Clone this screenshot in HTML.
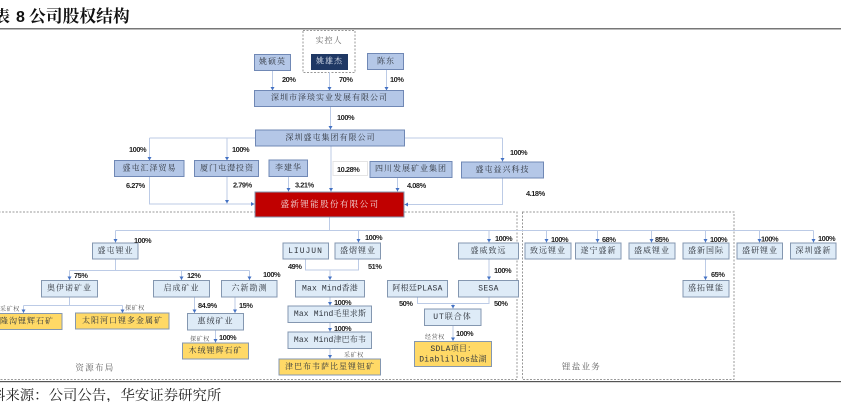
<!DOCTYPE html>
<html><head><meta charset="utf-8">
<style>
html,body{margin:0;padding:0;background:#fff;width:841px;height:402px;overflow:hidden}
svg{display:block;filter:blur(.35px)}
text{font-family:"Liberation Sans","Noto Serif CJK SC",serif}
.b text,text.c{font-family:"Liberation Mono","Noto Serif CJK SC",serif;font-size:8px;letter-spacing:1px;fill:#2f343c;text-anchor:middle;dominant-baseline:central}
.p{font-family:"Liberation Sans",sans-serif;font-size:7.4px;letter-spacing:-.45px;fill:#222;font-weight:bold}
.s{font-family:"Noto Serif CJK SC",serif;font-size:6px;letter-spacing:.6px;fill:#555}
.up rect{fill:#b4c7e7;stroke:#7088b5;stroke-width:1}
.lo rect{fill:#deebf7;stroke:#8497b0;stroke-width:1}
.ye rect{fill:#ffd966;stroke:#8497b0;stroke-width:1}
.l{fill:none;stroke:#bccbe6;stroke-width:1}
.a{fill:none;stroke:#bccbe6;stroke-width:1;marker-end:url(#m)}
.d{fill:none;stroke:#999;stroke-width:1;stroke-dasharray:2 1.5}
</style></head><body>
<svg width="841" height="402" viewBox="0 0 841 402" xmlns="http://www.w3.org/2000/svg">
<defs><marker id="m" markerUnits="userSpaceOnUse" markerWidth="4" markerHeight="4" refX="3.5" refY="2" orient="auto"><path d="M0 0L3.5 2L0 4Z" fill="#4472c4"/></marker></defs>

<text x="-6" y="22" style="font-family:'Noto Serif CJK SC',serif;font-size:16px;font-weight:bold;fill:#111">表</text>
<text x="16" y="22" style="font-family:'Liberation Sans',sans-serif;font-size:16px;font-weight:bold;fill:#111">8</text>
<text x="29" y="22" style="font-family:'Noto Serif CJK SC',serif;font-size:16.8px;font-weight:bold;fill:#111">公司股权结构</text>
<rect x="0" y="28" width="841" height="1.5" fill="#777"/>
<rect x="0" y="381" width="841" height="1.2" fill="#555"/>
<text x="-9" y="400" style="font-family:'Noto Serif CJK SC',serif;font-size:14.4px;fill:#222">料来源：公司公告，华安证券研究所</text>

<rect class="d" x="303" y="30.5" width="52" height="42"/>
<rect class="d" x="-5" y="212" width="522" height="167.5"/>
<rect class="d" x="522.5" y="212" width="211.5" height="167.5"/>

<path class="a" d="M272.5 70V90.5"/><path class="a" d="M329.5 72V90.5"/><path class="a" d="M386.5 69V90.5"/>
<path class="a" d="M330.5 106V129.5"/>
<path class="l" d="M149.5 138H502.5"/>
<path class="a" d="M149.5 138V160.5"/><path class="a" d="M227 138V160.5"/><path class="a" d="M502.5 138V161.5"/>
<path class="a" d="M331 146V191.5"/><path class="a" d="M288.5 176V191.5"/><path class="a" d="M397.5 177V191.5"/>
<path class="a" d="M149.5 176V204H254.5"/><path class="a" d="M227 176V203.5"/><path class="a" d="M502.5 178V204.5H404.5"/>

<path class="l" d="M329.5 217V230.5"/>
<path class="l" d="M115.5 230.5H813.5"/>
<path class="a" d="M115.5 230.5V242.5"/><path class="a" d="M358.5 230.5V242.5"/><path class="a" d="M489 230.5V242.5"/>
<path class="a" d="M546.5 230.5V242.5"/><path class="a" d="M597.5 230.5V242.5"/><path class="a" d="M651.5 230.5V242.5"/>
<path class="a" d="M705.5 230.5V242.5"/><path class="a" d="M759.5 230.5V242.5"/><path class="a" d="M813.5 230.5V242.5"/>

<path class="l" d="M115.5 259V270.5"/><path class="l" d="M69.5 270.5H249.5"/>
<path class="a" d="M69.5 270.5V280"/><path class="a" d="M181.5 270.5V280"/><path class="a" d="M249.5 270.5V280"/>
<path class="l" d="M69.5 297V305.5"/><path class="l" d="M23.5 305.5H122.5"/>
<path class="a" d="M23.5 305.5V313"/><path class="a" d="M122.5 305.5V313"/>
<path class="a" d="M194.5 297V313"/><path class="a" d="M235 297V313"/>
<path class="a" d="M215.5 330V342.5"/>

<path class="l" d="M305.5 259V270H358.5V259"/><path class="a" d="M330 270V280"/>
<path class="a" d="M330 297V305.5"/><path class="a" d="M330 322V331.5"/><path class="a" d="M330 348V358.5"/>
<path class="a" d="M489 259V280"/>
<path class="l" d="M417.5 297V303.5H489V297"/><path class="a" d="M453 303.5V308.5"/>
<path class="a" d="M453 325.5V341"/>
<path class="a" d="M705.5 259V280"/>

<g class="b lo"><rect x="254.5" y="54.5" width="36" height="16" style="fill:#b4c7e7;stroke:#7088b5"/><text x="272.5" y="62.5">姚硕英</text></g>
<rect x="311" y="54" width="37" height="16" fill="#1f3864"/>
<text class="c" x="329.5" y="62" style="fill:#dfe6f2">姚雄杰</text>
<text class="c" x="329" y="41.5" style="fill:#666">实控人</text>
<g class="b up">
<rect x="367.5" y="53.5" width="36" height="16"/><text x="386" y="62">陈东</text>
<rect x="254.5" y="90.5" width="149" height="16"/><text x="329.5" y="98.5">深圳市泽琰实业发展有限公司</text>
<rect x="255.5" y="130" width="149" height="16"/><text x="330.5" y="138.5">深圳盛屯集团有限公司</text>
<rect x="114.5" y="160.5" width="69.5" height="16"/><text x="149.5" y="169">盛屯汇泽贸易</text>
<rect x="194.5" y="160.5" width="64" height="16"/><text x="227" y="169">厦门屯濋投资</text>
<rect x="269" y="160" width="38.5" height="16.5"/><text x="288.5" y="168.5">李建华</text>
<rect x="370" y="161.5" width="82" height="16"/><text x="411" y="169.5">四川发展矿业集团</text>
<rect x="461.5" y="162" width="82" height="16"/><text x="502.5" y="170.5">盛屯益兴科技</text>
</g>
<rect x="333" y="161.5" width="34.5" height="14" fill="#fff" stroke="#e4e4e4"/>
<rect x="255" y="192" width="149" height="25" fill="#c00000" stroke="#8497b0"/>
<text class="c" x="330" y="205" style="fill:#f3dcdc;font-size:8.5px;letter-spacing:1.4px">盛新锂能股份有限公司</text>

<g class="b lo">
<rect x="92.5" y="243" width="45.5" height="16"/><text x="115.5" y="251.5">盛屯锂业</text>
<rect x="41.5" y="280.5" width="56" height="16.5"/><text x="69.5" y="289">奥伊诺矿业</text>
<rect x="153.5" y="280.5" width="56" height="16.5"/><text x="181.5" y="289">启成矿业</text>
<rect x="221.5" y="280.5" width="55.5" height="16.5"/><text x="249.5" y="289">六新勘测</text>
<rect x="187.5" y="313.5" width="56" height="16.5"/><text x="215.5" y="322">惠绒矿业</text>
<rect x="283" y="243" width="45.5" height="16"/><text x="305.5" y="251.5">LIUJUN</text>
<rect x="335" y="243" width="45.5" height="16"/><text x="358" y="251.5">盛熠锂业</text>
<rect x="295.5" y="280.5" width="69" height="16.5"/><text x="330" y="289" style="letter-spacing:.15px">Max Mind香港</text>
<rect x="288" y="306" width="83.5" height="16.5"/><text x="330" y="314.5" style="letter-spacing:.15px">Max Mind毛里求斯</text>
<rect x="288" y="332" width="83.5" height="16.5"/><text x="330" y="340.5" style="letter-spacing:.15px">Max Mind津巴布韦</text>
<rect x="387.5" y="280.5" width="60" height="16.5"/><text x="417.5" y="289" style="letter-spacing:.3px">阿根廷PLASA</text>
<rect x="458.5" y="280.5" width="60" height="16.5"/><text x="488.5" y="289" style="letter-spacing:.3px">SESA</text>
<rect x="458.5" y="243" width="60" height="16"/><text x="488.5" y="251.5">盛威致远</text>
<rect x="424.5" y="309" width="56.5" height="16.5"/><text x="452.5" y="317.5">UT联合体</text>
<rect x="525" y="243" width="46" height="16"/><text x="548" y="251.5">致远锂业</text>
<rect x="575.5" y="243" width="45.5" height="16"/><text x="598.5" y="251.5">遂宁盛新</text>
<rect x="629" y="243" width="46" height="16"/><text x="652" y="251.5">盛威锂业</text>
<rect x="683" y="243" width="46" height="16"/><text x="706" y="251.5">盛新国际</text>
<rect x="683" y="280.5" width="46" height="16.5"/><text x="706" y="289">盛拓锂能</text>
<rect x="737" y="243" width="45.5" height="16"/><text x="760" y="251.5">盛研锂业</text>
<rect x="790.5" y="243" width="45.5" height="16"/><text x="813.5" y="251.5">深圳盛新</text>
</g>
<g class="b ye">
<rect x="-5" y="313.5" width="67" height="16"/><text x="27" y="322">隆沟锂辉石矿</text>
<rect x="75.5" y="313" width="93.5" height="16"/><text x="122.5" y="321.5">太阳河口锂多金属矿</text>
<rect x="182.5" y="343" width="66" height="16"/><text x="215.5" y="351.5">木绒锂辉石矿</text>
<rect x="279" y="359" width="101.5" height="16"/><text x="330" y="367.5">津巴布韦萨比星锂钽矿</text>
<rect x="414.5" y="341.5" width="77" height="25"/><text x="453" y="349.5" style="letter-spacing:.3px">SDLA项目：</text><text x="453" y="360" style="letter-spacing:.3px">Diablillos盐湖</text>
</g>
<text class="c" x="95" y="368.5" style="fill:#666;font-size:8.5px;letter-spacing:1.3px">资源布局</text>
<text class="c" x="581.5" y="367.5" style="fill:#666;font-size:8.5px;letter-spacing:1.3px">锂盐业务</text>

<g class="p">
<text class="p" x="282" y="82">20%</text><text class="p" x="339" y="82">70%</text><text class="p" x="390" y="82">10%</text>
<text class="p" x="337" y="120">100%</text>
<text class="p" x="129" y="152">100%</text><text class="p" x="232" y="152">100%</text><text class="p" x="510" y="155">100%</text>
<text class="p" x="126" y="188">6.27%</text><text class="p" x="233" y="187.500">2.79%</text><text class="p" x="295" y="187.500">3.21%</text>
<text class="p" x="337" y="172">10.28%</text><text class="p" x="407" y="188">4.08%</text><text class="p" x="526" y="196">4.18%</text>
<text class="p" x="134" y="243">100%</text><text class="p" x="74" y="278">75%</text><text class="p" x="187" y="278">12%</text><text class="p" x="263" y="277">100%</text>
<text class="p" x="198" y="308">84.9%</text><text class="p" x="239" y="308">15%</text><text class="p" x="219" y="340">100%</text>
<text class="p" x="288" y="269">49%</text><text class="p" x="368" y="269">51%</text><text class="p" x="365" y="240">100%</text>
<text class="p" x="334" y="305">100%</text><text class="p" x="334" y="331">100%</text>
<text class="p" x="399" y="306">50%</text><text class="p" x="494" y="306">50%</text>
<text class="p" x="495" y="241">100%</text><text class="p" x="494" y="273">100%</text><text class="p" x="456" y="336">100%</text>
<text class="p" x="551" y="242">100%</text><text class="p" x="602" y="242">68%</text><text class="p" x="655" y="242">85%</text><text class="p" x="710" y="242">100%</text>
<text class="p" x="711" y="277">65%</text><text class="p" x="761" y="241.500">100%</text><text class="p" x="818" y="241">100%</text>
</g>
<text class="s" x="0" y="311">采矿权</text><text class="s" x="125" y="310">探矿权</text><text class="s" x="190" y="341">探矿权</text>
<text class="s" x="344" y="357">采矿权</text><text class="s" x="425" y="339">经营权</text>
</svg>
</body></html>
